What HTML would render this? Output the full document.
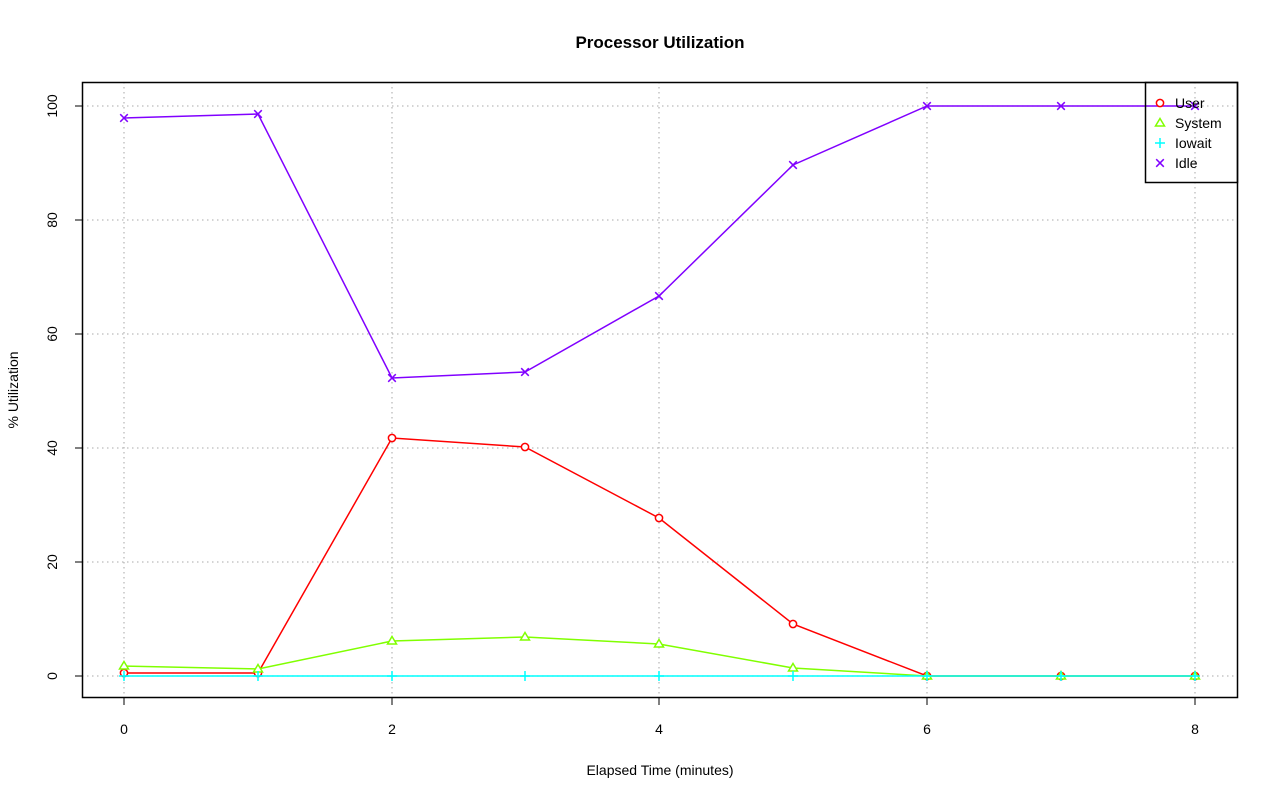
<!DOCTYPE html>
<html><head><style>body{margin:0;background:#fff}svg{display:block}text{font-family:"Liberation Sans",sans-serif;fill:#000}</style></head><body>
<svg width="1280" height="801" viewBox="0 0 1280 801" xmlns="http://www.w3.org/2000/svg">
<rect width="1280" height="801" fill="#fff"/>
<g stroke="#bbbbbb" stroke-width="1.3" stroke-dasharray="1.5,3.5">
<line x1="124" y1="82" x2="124" y2="698"/><line x1="392" y1="82" x2="392" y2="698"/><line x1="659" y1="82" x2="659" y2="698"/><line x1="927" y1="82" x2="927" y2="698"/><line x1="1195" y1="82" x2="1195" y2="698"/>
<line x1="82" y1="676" x2="1238" y2="676"/><line x1="82" y1="562" x2="1238" y2="562"/><line x1="82" y1="448" x2="1238" y2="448"/><line x1="82" y1="334" x2="1238" y2="334"/><line x1="82" y1="220" x2="1238" y2="220"/><line x1="82" y1="106" x2="1238" y2="106"/>
</g>
<defs>
<g id="c"><circle r="3.6" fill="#fff" stroke="#ff0000" stroke-width="1.5"/></g>
<g id="t"><polygon points="0,-4.5 4.5,3 -4.5,3" fill="#fff" stroke="#80ff00" stroke-width="1.5"/></g>
<g id="p"><path d="M-5,0H5M0,-5V5" stroke="#00ffff" stroke-width="1.5"/></g>
<g id="x"><path d="M-3.8,-3.8L3.8,3.8M-3.8,3.8L3.8,-3.8" stroke="#8000ff" stroke-width="1.5"/></g>
</defs>
<g fill="none" stroke-width="1.5">
<polyline stroke="#ff0000" points="124,673 258,673 392,438 525,447 659,518 793,624 927,676 1061,676 1195,676"/>
</g>
<use href="#c" x="124" y="673"/><use href="#c" x="258" y="673"/><use href="#c" x="392" y="438"/><use href="#c" x="525" y="447"/><use href="#c" x="659" y="518"/><use href="#c" x="793" y="624"/><use href="#c" x="927" y="676"/><use href="#c" x="1061" y="676"/><use href="#c" x="1195" y="676"/>
<polyline fill="none" stroke-width="1.5" stroke="#80ff00" points="124,666 258,669 392,641 525,637 659,644 793,668 927,676 1061,676 1195,676"/>
<use href="#t" x="124" y="666"/><use href="#t" x="258" y="669"/><use href="#t" x="392" y="641"/><use href="#t" x="525" y="637"/><use href="#t" x="659" y="644"/><use href="#t" x="793" y="668"/><use href="#t" x="927" y="676"/><use href="#t" x="1061" y="676"/><use href="#t" x="1195" y="676"/>
<polyline fill="none" stroke-width="1.5" stroke="#00ffff" points="124,676 258,676 392,676 525,676 659,676 793,676 927,676 1061,676 1195,676"/>
<use href="#p" x="124" y="676"/><use href="#p" x="258" y="676"/><use href="#p" x="392" y="676"/><use href="#p" x="525" y="676"/><use href="#p" x="659" y="676"/><use href="#p" x="793" y="676"/><use href="#p" x="927" y="676"/><use href="#p" x="1061" y="676"/><use href="#p" x="1195" y="676"/>
<polyline fill="none" stroke-width="1.5" stroke="#8000ff" points="124,118 258,114 392,378 525,372 659,296 793,165 927,106 1061,106 1195,106"/>
<use href="#x" x="124" y="118"/><use href="#x" x="258" y="114"/><use href="#x" x="392" y="378"/><use href="#x" x="525" y="372"/><use href="#x" x="659" y="296"/><use href="#x" x="793" y="165"/><use href="#x" x="927" y="106"/><use href="#x" x="1061" y="106"/><use href="#x" x="1195" y="106"/>
<rect x="82.5" y="82.5" width="1155" height="615" fill="none" stroke="#000" stroke-width="1.5"/>
<rect x="1145.5" y="82.5" width="92" height="100" fill="none" stroke="#000" stroke-width="1.5"/>
<use href="#c" x="1160" y="103"/><use href="#t" x="1160" y="123"/><use href="#p" x="1160" y="143"/><use href="#x" x="1160" y="163"/>
<g font-size="14"><text x="1175" y="108">User</text><text x="1175" y="128">System</text><text x="1175" y="148">Iowait</text><text x="1175" y="168">Idle</text></g>
<g stroke="#000" stroke-width="1">
<line x1="124" y1="698" x2="124" y2="705"/><line x1="392" y1="698" x2="392" y2="705"/><line x1="659" y1="698" x2="659" y2="705"/><line x1="927" y1="698" x2="927" y2="705"/><line x1="1195" y1="698" x2="1195" y2="705"/>
<line x1="75" y1="676" x2="82" y2="676"/><line x1="75" y1="562" x2="82" y2="562"/><line x1="75" y1="448" x2="82" y2="448"/><line x1="75" y1="334" x2="82" y2="334"/><line x1="75" y1="220" x2="82" y2="220"/><line x1="75" y1="106" x2="82" y2="106"/>
</g>
<g font-size="14" text-anchor="middle">
<text x="124" y="734">0</text><text x="392" y="734">2</text><text x="659" y="734">4</text><text x="927" y="734">6</text><text x="1195" y="734">8</text>
<text x="660" y="775">Elapsed Time (minutes)</text>
<g transform="translate(57,0)"><text transform="translate(0,676) rotate(-90)">0</text><text transform="translate(0,562) rotate(-90)">20</text><text transform="translate(0,448) rotate(-90)">40</text><text transform="translate(0,334) rotate(-90)">60</text><text transform="translate(0,220) rotate(-90)">80</text><text transform="translate(0,106) rotate(-90)">100</text></g>
<text transform="translate(18,390) rotate(-90)">% Utilization</text>
<text x="660" y="48" font-size="17" font-weight="bold">Processor Utilization</text>
</g>
</svg>
</body></html>
